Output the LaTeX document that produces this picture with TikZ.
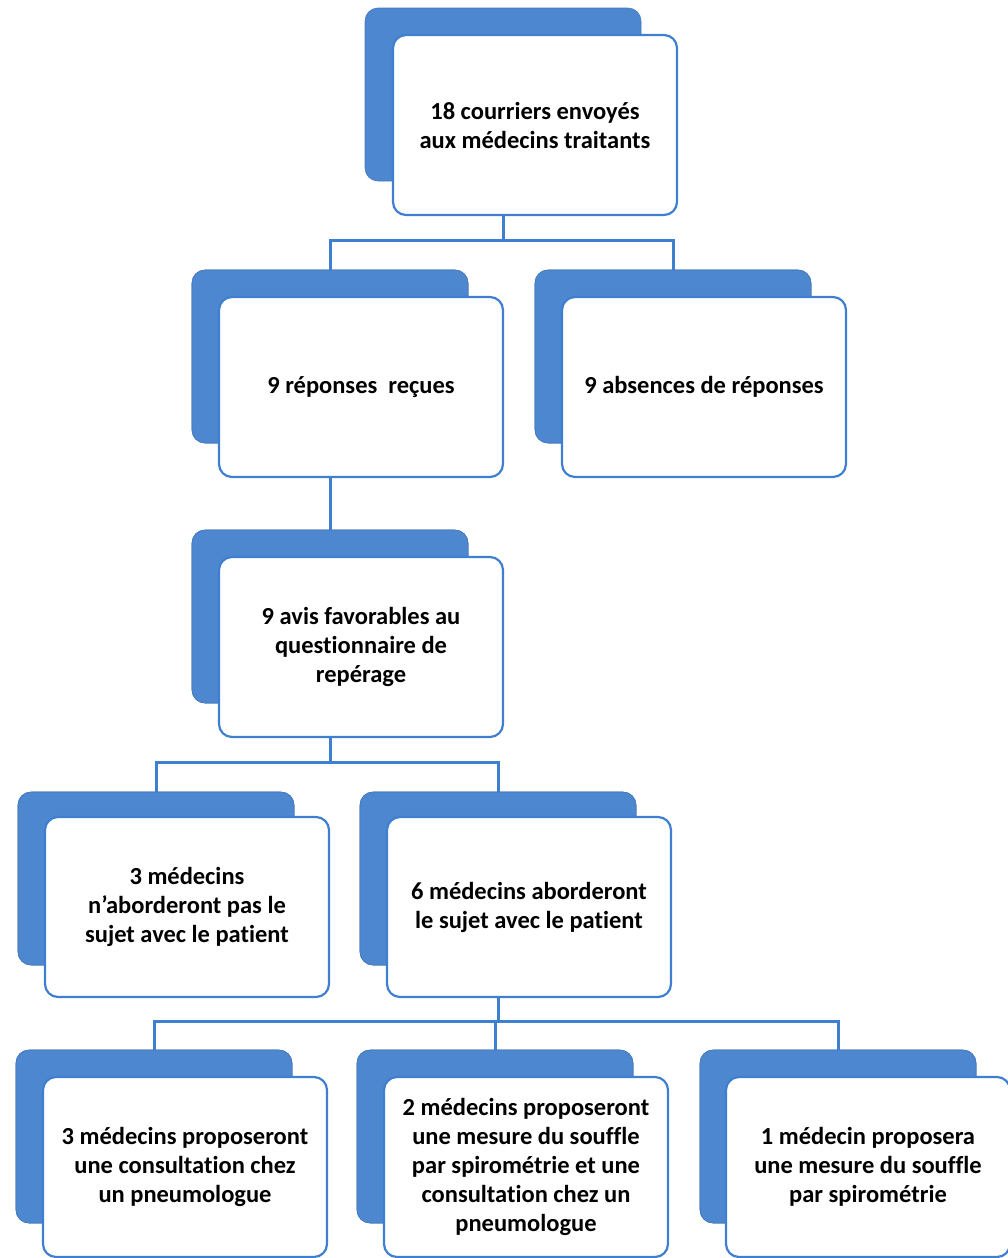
\documentclass[tikz,border=0pt]{standalone}
\usepackage{fontspec}
\setmainfont{Carlito}[Ligatures=NoCommon]
\definecolor{bblue}{HTML}{4D87CF}
\definecolor{lblue}{HTML}{3F7FD0}
\begin{document}
\begin{tikzpicture}[x=1pt,y=-1pt,
  back/.style={fill=bblue, draw=bblue!90!black, line width=0.6pt, rounded corners=13pt,
    minimum width=276pt, minimum height=173pt, inner sep=0pt},
  front/.style={fill=white, draw=lblue, line width=2.2pt, rounded corners=13pt,
    minimum width=284pt, minimum height=180pt, inner sep=0pt, align=center,
    font=\fontsize{24.5}{29}\selectfont\bfseries},
  conn/.style={draw=lblue, line width=3pt}]
\useasboundingbox (0,0) rectangle (1008,1258);
% blue backs
\node[back] (b1) at (503,94.5) {};
\node[back] (b2) at (330,356.5) {};
\node[back] (b3) at (673,356.5) {};
\node[back] (b4) at (330,616.5) {};
\node[back] (b5) at (156,878.5) {};
\node[back] (b6) at (498,878.5) {};
\node[back] (b7) at (154,1136.5) {};
\node[back] (b8) at (495,1136.5) {};
\node[back] (b9) at (838,1136.5) {};
% junction coordinates
\coordinate (j1) at (503,240);
\coordinate (j2) at (330,762);
\coordinate (j3) at (498,1021);
% connectors (drawn before fronts)
\draw[conn] (b1.south) -- (b1.south |- j1);
\draw[conn] (b2.north) |- (j1) -| (b3.north);
\draw[conn] (b2.south) -- (b4.north);
\draw[conn] (b4.south) -- (b4.south |- j2);
\draw[conn] (b5.north) |- (j2) -| (b6.north);
\draw[conn] (b6.south) -- (b6.south |- j3);
\draw[conn] (b7.north) |- (j3) -| (b9.north);
\draw[conn] (b8.north) -- (b8.north |- j3);
% redraw backs over connector ends
\foreach \n in {b2,b3,b4,b5,b6,b7,b8,b9} {\node[back] at (\n) {};}
% white fronts
\node[front] (w1) at (535,125) {18 courriers envoyés\\aux médecins traitants};
\node[front] (w2) at (361,387) {9 réponses~ reçues};
\node[front] (w3) at (704,387) {9 absences de réponses};
\node[front] (w4) at (361,647) {9 avis favorables au\\questionnaire de\\repérage};
\node[front] (w5) at (187,907) {3 médecins\\n'aborderont pas le\\sujet avec le patient};
\node[front] (w6) at (529,907) {6 médecins aborderont\\le sujet avec le patient};
\node[front] (w7) at (185,1167) {3 médecins proposeront\\une consultation chez\\un pneumologue};
\node[front] (w8) at (526,1167) {2 médecins proposeront\\une mesure du souffle\\par spirométrie et une\\consultation chez un\\pneumologue};
\node[front] (w9) at (868,1167) {1 médecin proposera\\une mesure du souffle\\par spirométrie};
\end{tikzpicture}
\end{document}
